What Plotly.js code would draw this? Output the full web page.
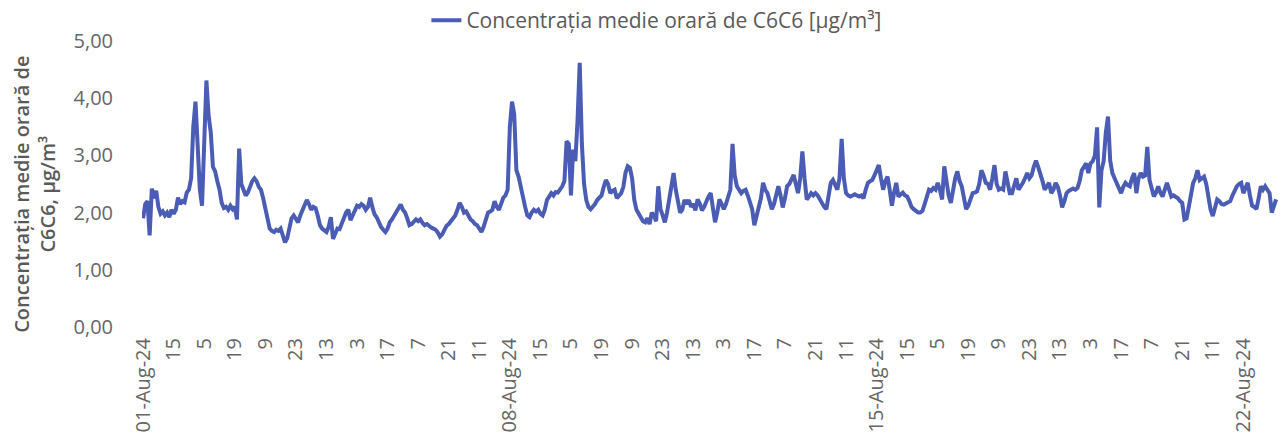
<!DOCTYPE html>
<html>
<head>
<meta charset="utf-8">
<script src="https://cdn.plot.ly/plotly-3.0.1.min.js"></script>
<style>html,body{margin:0;padding:0;background:#fff;}#chart{width:1282px;height:445px;}</style>
</head>
<body>
<div id="chart"></div>
<script>
// Hourly C6H6 concentrations (µg/m³), starting 01-Aug-24 01:00
var concentration = [
1.90,2.15,2.20,1.60,2.42,2.25,2.38,2.10,1.98,2.02,
1.95,2.00,1.92,2.05,1.98,2.05,2.26,2.15,2.20,2.18,
2.35,2.40,2.60,3.50,3.94,3.20,2.40,2.12,3.30,4.31,
3.70,3.40,2.80,2.72,2.55,2.40,2.17,2.08,2.10,2.05,
2.12,2.06,2.10,1.88,3.12,2.50,2.40,2.30,2.35,2.45,
2.55,2.60,2.55,2.45,2.40,2.25,2.05,1.90,1.72,1.68,
1.66,1.70,1.68,1.72,1.62,1.48,1.55,1.75,1.90,1.95,
1.88,1.83,1.95,2.05,2.15,2.22,2.15,2.05,2.10,2.08,
1.95,1.78,1.72,1.68,1.66,1.75,1.92,1.54,1.65,1.72,
1.71,1.80,1.92,2.00,2.05,1.87,1.95,2.05,2.12,2.10,
2.15,2.12,2.05,2.10,2.26,2.10,1.97,1.92,1.82,1.75,
1.70,1.66,1.72,1.83,1.88,1.95,2.00,2.08,2.14,2.05,
2.00,1.90,1.78,1.80,1.85,1.88,1.85,1.88,1.82,1.78,
1.80,1.76,1.74,1.72,1.70,1.65,1.58,1.62,1.70,1.77,
1.80,1.85,1.88,1.95,2.05,2.17,2.10,2.00,2.02,1.95,
1.88,1.85,1.80,1.78,1.72,1.66,1.75,1.90,2.00,2.02,
2.05,2.20,2.10,2.05,2.17,2.26,2.30,2.40,3.50,3.94,
3.72,2.74,2.63,2.45,2.22,2.10,1.95,1.92,2.00,2.05,
2.02,2.05,1.98,1.95,2.05,2.22,2.28,2.34,2.30,2.36,
2.35,2.40,2.46,2.55,3.25,3.20,2.30,3.10,2.90,3.60,
4.62,3.20,2.50,2.22,2.10,2.06,2.10,2.15,2.22,2.25,
2.30,2.45,2.57,2.50,2.34,2.38,2.40,2.25,2.30,2.34,
2.45,2.70,2.81,2.78,2.60,2.22,2.05,1.97,1.90,1.85,
1.83,1.90,1.80,2.00,1.95,1.85,2.46,2.06,1.95,1.83,
2.00,2.22,2.50,2.69,2.40,2.22,2.00,2.05,2.22,2.15,
2.22,2.10,2.15,2.04,2.23,2.16,2.04,2.10,2.20,2.28,
2.34,2.10,1.83,2.00,2.23,2.15,2.06,2.15,2.30,2.40,
3.20,2.65,2.46,2.40,2.34,2.38,2.40,2.30,2.15,2.06,
1.78,1.95,2.06,2.25,2.52,2.40,2.34,2.20,2.06,2.15,
2.30,2.46,2.30,2.09,2.25,2.46,2.50,2.60,2.66,2.50,
2.34,2.60,3.07,2.60,2.23,2.28,2.34,2.30,2.34,2.30,
2.23,2.15,2.10,2.06,2.30,2.52,2.57,2.50,2.40,2.60,
3.29,2.60,2.34,2.30,2.28,2.30,2.32,2.30,2.28,2.30,
2.25,2.40,2.52,2.55,2.57,2.65,2.75,2.83,2.60,2.40,
2.55,2.63,2.40,2.12,2.35,2.52,2.28,2.32,2.35,2.30,
2.28,2.20,2.10,2.06,2.02,2.00,2.00,2.03,2.15,2.30,
2.40,2.38,2.43,2.40,2.52,2.40,2.23,2.81,2.52,2.30,
2.17,2.40,2.60,2.72,2.55,2.46,2.20,2.06,2.12,2.25,
2.34,2.35,2.37,2.50,2.74,2.65,2.52,2.50,2.40,2.60,
2.83,2.50,2.40,2.42,2.40,2.72,2.50,2.34,2.34,2.45,
2.60,2.40,2.45,2.52,2.60,2.69,2.60,2.65,2.80,2.91,
2.80,2.69,2.55,2.40,2.45,2.52,2.34,2.40,2.52,2.45,
2.30,2.09,2.20,2.34,2.38,2.40,2.42,2.40,2.43,2.55,
2.74,2.80,2.86,2.69,2.86,2.90,3.00,3.49,2.09,2.74,
2.90,3.40,3.68,2.91,2.69,2.60,2.52,2.40,2.34,2.45,
2.52,2.48,2.46,2.60,2.69,2.34,2.60,2.69,2.63,2.65,
3.15,2.57,2.45,2.28,2.35,2.46,2.35,2.28,2.40,2.52,
2.40,2.28,2.30,2.28,2.25,2.20,2.17,1.88,1.90,2.10,
2.30,2.52,2.60,2.74,2.57,2.60,2.63,2.50,2.28,2.05,
1.94,2.10,2.23,2.20,2.15,2.14,2.16,2.18,2.20,2.30,
2.40,2.46,2.50,2.52,2.34,2.45,2.52,2.30,2.12,2.10,
2.06,2.25,2.46,2.40,2.46,2.40,2.34,2.00,2.10,2.23
];

// Tick labels shown every 14 hours
var tickLabels = [
"01-Aug-24","15","5","19","9","23","13","3","17","7","21","11",
"08-Aug-24","15","5","19","9","23","13","3","17","7","21","11",
"15-Aug-24","15","5","19","9","23","13","3","17","7","21","11",
"22-Aug-24"
];
var tickStepHours = 14;

var seriesName = "Concentrația medie orară de C6C6 [µg/m³]";
var yTitle = "Concentrația medie orară de<br>C6C6, µg/m³";

var hours = concentration.map(function(_, i){ return i; });
var tickVals = tickLabels.map(function(_, i){ return i * tickStepHours; });

var gray = "#595959";
var tickGray = "#666666";
var fontFam = "'Open Sans', Lato, sans-serif";

var trace = {
  x: hours,
  y: concentration,
  type: "scatter",
  mode: "lines",
  name: seriesName,
  line: {color: "#4a5cb4", width: 4},
  showlegend: true
};

var layout = {
  width: 1282,
  height: 445,
  margin: {l: 142, r: 0, t: 35, b: 118},
  paper_bgcolor: "#ffffff",
  plot_bgcolor: "#ffffff",
  separators: ",.",
  showlegend: true,
  legend: {
    orientation: "h",
    xref: "container", yref: "container",
    x: 0.512, xanchor: "center",
    y: 1, yanchor: "top",
    font: {family: fontFam, size: 21, color: gray},
    bgcolor: "rgba(0,0,0,0)"
  },
  xaxis: {
    range: [-0.5, 521.7],
    tickvals: tickVals,
    ticktext: tickLabels,
    tickangle: -90,
    ticks: "outside",
    ticklen: 2,
    tickcolor: "rgba(0,0,0,0)",
    showgrid: false,
    zeroline: false,
    showline: false,
    tickfont: {family: fontFam, size: 20, color: tickGray},
    fixedrange: true
  },
  yaxis: {
    range: [0, 5],
    tickvals: [0, 1, 2, 3, 4, 5],
    tickformat: ".2f",
    ticks: "outside",
    ticklen: 24,
    tickcolor: "rgba(0,0,0,0)",
    showgrid: false,
    zeroline: false,
    showline: false,
    tickfont: {family: fontFam, size: 20, color: tickGray},
    fixedrange: true
  },
  annotations: [{
    text: yTitle,
    xref: "paper", yref: "paper",
    x: 0, y: 0.462,
    xshift: -107,
    xanchor: "center", yanchor: "middle",
    textangle: -90,
    showarrow: false,
    font: {family: fontFam, size: 20, color: gray, weight: 600}
  }]
};

Plotly.newPlot("chart", [trace], layout, {displayModeBar: false, staticPlot: true});
</script>
</body>
</html>
